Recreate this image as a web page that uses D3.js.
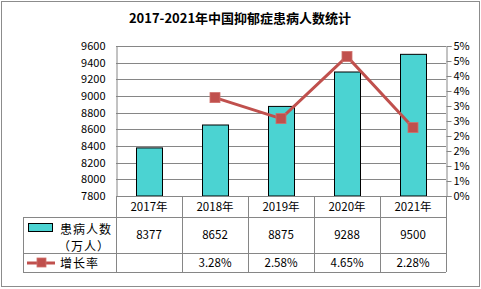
<!DOCTYPE html>
<html><head><meta charset="utf-8">
<script src="https://cdn.jsdelivr.net/npm/d3@7"></script>
<style>body{margin:0;background:#fff}svg{display:block}</style>
</head><body>
<script>
const years = ["2017年","2018年","2019年","2020年","2021年"];
const patients = [8377, 8652, 8875, 9288, 9500];
const growth = [null, 3.28, 2.58, 4.65, 2.28];
const growthLabels = ["", "3.28%", "2.58%", "4.65%", "2.28%"];
const leftTicks = [7800,8000,8200,8400,8600,8800,9000,9200,9400,9600];
const rightTicks = [0,0.5,1,1.5,2,2.5,3,3.5,4,4.5,5];
const title = "2017-2021年中国抑郁症患病人数统计";
const seriesNames = ["患病人数", "（万人）", "增长率"];

const W = 481, H = 289;
const font = "'Noto Sans CJK SC', 'Noto Sans', sans-serif";
const svg = d3.select("body").append("svg").attr("width", W).attr("height", H);
svg.append("rect").attr("x",1.5).attr("y",1.5).attr("width",W-3).attr("height",H-4)
  .attr("fill","#fff").attr("stroke","#8c8c8c").attr("stroke-width",1);

svg.append("text").attr("x",240).attr("y",23).attr("text-anchor","middle")
  .attr("font-family",font).attr("font-weight","bold").attr("font-size",13).text(title);

const L = 116, R = 446, T = 46, B = 196;
const x = d3.scaleBand().domain(years).range([L, R]);
const y = d3.scaleLinear().domain([7800, 9600]).range([B, T]);
const y2 = d3.scaleLinear().domain([0, 5]).range([B, T]);
const grey = "#868686";

// gridlines
svg.append("g").selectAll("line").data(leftTicks).join("line")
  .attr("x1", L).attr("x2", R).attr("y1", d=>Math.round(y(d))+0.5).attr("y2", d=>Math.round(y(d))+0.5)
  .attr("stroke", grey).attr("stroke-width",1);

// left axis
const la = svg.append("g").attr("transform",`translate(${L+0.5},0)`)
  .call(d3.axisLeft(y).tickValues(leftTicks).tickSize(0).tickPadding(11).tickFormat(d3.format("d")));
la.select(".domain").attr("stroke",grey);
la.selectAll("text").attr("font-family",font).attr("font-size",11).attr("fill","#000");

// right axis
const ra = svg.append("g").attr("transform",`translate(${R+0.5},0)`)
  .call(d3.axisRight(y2).tickValues(rightTicks).tickSize(5).tickPadding(2).tickFormat(d=>Math.round(d+1e-9)+"%"));
ra.select(".domain").attr("stroke",grey);
ra.selectAll("line").attr("stroke",grey);
ra.selectAll("text").attr("font-family",font).attr("font-size",11).attr("fill","#000");

// bars
const bw = 26;
svg.append("g").selectAll("rect").data(patients).join("rect")
  .attr("x",(d,i)=>Math.round(x(years[i])+x.bandwidth()/2-bw/2)+0.5)
  .attr("y",d=>y(d)).attr("width",bw).attr("height",d=>B-y(d))
  .attr("fill","#4BD3D2").attr("stroke","#000").attr("stroke-width",1);

// line
const lineColor = "#C0504D";
const pts = growth.map((g,i)=>g==null?null:[x(years[i])+x.bandwidth()/2, y2(g)]).filter(p=>p);
svg.append("path").attr("d", d3.line()(pts)).attr("fill","none")
  .attr("stroke",lineColor).attr("stroke-width",3);
svg.append("g").selectAll("rect").data(pts).join("rect")
  .attr("x",p=>p[0]-5).attr("y",p=>p[1]-5).attr("width",10).attr("height",10)
  .attr("fill",lineColor).attr("stroke","#d0706c").attr("stroke-width",0.8);

// table
const tg = svg.append("g").attr("stroke", grey).attr("stroke-width",1).attr("fill","none");
const rowY = [196, 217, 253, 272];
const tl = 23;
tg.append("line").attr("x1",L).attr("x2",R).attr("y1",rowY[0]+0.5).attr("y2",rowY[0]+0.5);
[1,2,3].forEach(k=>tg.append("line").attr("x1",tl).attr("x2",R).attr("y1",rowY[k]+0.5).attr("y2",rowY[k]+0.5));
tg.append("line").attr("x1",tl+0.5).attr("x2",tl+0.5).attr("y1",rowY[1]).attr("y2",rowY[3]);
const colX = years.map(c=>x(c)).concat([R]);
colX.forEach(cx=>tg.append("line").attr("x1",Math.round(cx)+0.5).attr("x2",Math.round(cx)+0.5).attr("y1",rowY[0]).attr("y2",rowY[3]));

const tt = svg.append("g").attr("font-family",font).attr("font-size",11.5).attr("text-anchor","middle").attr("fill","#000");
years.forEach((c,i)=>{
  const cx = x(c)+x.bandwidth()/2;
  tt.append("text").attr("x",cx).attr("y",211).text(c);
  tt.append("text").attr("x",cx).attr("y",239).text(patients[i]);
  tt.append("text").attr("x",cx).attr("y",267).text(growthLabels[i]);
});

// legend
svg.append("rect").attr("x",28.5).attr("y",223.5).attr("width",24).attr("height",8)
  .attr("fill","#4BD3D2").attr("stroke","#000").attr("stroke-width",1);
const lt = svg.append("g").attr("font-family",font).attr("font-size",12).attr("fill","#000");
lt.append("text").attr("x",60).attr("y",234).attr("letter-spacing",1).text(seriesNames[0]);
lt.append("text").attr("x",58).attr("y",251).attr("letter-spacing",1).text(seriesNames[1]);
lt.append("text").attr("x",60).attr("y",268).attr("letter-spacing",1).text(seriesNames[2]);
svg.append("line").attr("x1",27).attr("x2",55).attr("y1",263).attr("y2",263).attr("stroke",lineColor).attr("stroke-width",3);
svg.append("rect").attr("x",37).attr("y",258).attr("width",9).attr("height",9).attr("fill",lineColor).attr("stroke","#d0706c").attr("stroke-width",0.8);
</script>
</body></html>
